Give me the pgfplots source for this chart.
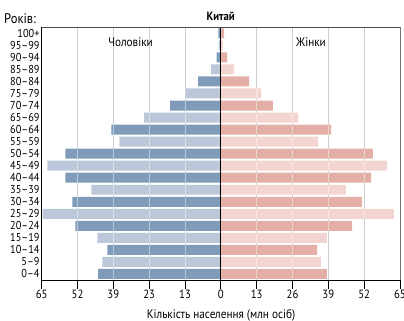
\documentclass[border=0pt]{standalone}
\usepackage{fontspec}
\setmainfont[FakeStretch=0.9]{PT Sans}
\usepackage{pgfplots}
\pgfplotsset{compat=1.18}
\definecolor{mdark}{HTML}{7F9BB9}
\definecolor{mlight}{HTML}{BCC8D9}
\definecolor{fdark}{HTML}{E4AFA7}
\definecolor{flight}{HTML}{F2D5D0}
\definecolor{gridc}{HTML}{A8A8A8}
\begin{document}
\begin{tikzpicture}
\useasboundingbox (0,0) rectangle (404bp,321bp);
\begin{axis}[
  at={(41.7bp,41bp)}, anchor=south west,
  width=358.3bp, height=252.7bp, scale only axis,
  xmin=-65, xmax=65, ymin=-0.5, ymax=20.5,
  xbar, bar width=0.83, /pgf/bar shift=0pt,
  axis line style={draw=none},
  xtick={-65,-52,-39,-26,-13,0,13,26,39,52,65},
  xticklabels={65,52,39,23,13,0,13,26,39,52,65},
  ytick={0,...,20},
  yticklabels={0–4,5–9,10–14,15–19,20–24,25–29,30–34,35–39,40–44,45–49,50–54,55–59,60–64,65–69,70–74,75–79,80–84,85–89,90–94,95–99,100+},
  /pgf/number format/assume math mode=true,
  xtick pos=bottom, tick align=outside, major tick length=9bp,
  x tick style={black, line width=0.9pt},
  y tick style={draw=none},
  xticklabel style={font=\fontsize{12}{12}\selectfont, inner sep=1bp},
  yticklabel style={font=\fontsize{11.5}{12}\selectfont, inner sep=2bp, xshift=9bp},
  xmajorgrids, grid style={gridc, line width=0.9pt},
  clip=false,
]
\addplot[draw=none, fill=mdark] coordinates {(-44.5,0) (-41.2,2) (-52.8,4) (-53.9,6) (-56.4,8) (-56.4,10) (-39.7,12) (-18.4,14) (-8.2,16) (-1.5,18) (-0.9,20)};
\addplot[draw=none, fill=mlight] coordinates {(-43,1) (-44.8,3) (-64.7,5) (-47,7) (-62.9,9) (-36.8,11) (-27.8,13) (-12.8,15) (-3.5,17) (-0.8,19)};
\addplot[draw=none, fill=fdark] coordinates {(38.5,0) (34.9,2) (47.6,4) (51.2,6) (54.5,8) (55.2,10) (40,12) (18.9,14) (10.3,16) (2.3,18) (1.2,20)};
\addplot[draw=none, fill=flight] coordinates {(36.3,1) (38.5,3) (62.8,5) (45.4,7) (60.3,9) (35.3,11) (28,13) (14.6,15) (4.8,17) (0.7,19)};
\foreach \g in {-52,-39,-26,-13,13,26,39,52} {
  \edef\tmp{\noexpand\draw[white, opacity=0.45, line width=0.7pt] (axis cs:\g,-0.5) -- (axis cs:\g,20.5);}\tmp
}
\draw[black, line width=1.3pt] (axis cs:0,-0.5) -- (axis cs:0,20.5);
\draw[black, line width=1.2pt] (rel axis cs:0,0) -- (rel axis cs:0,1);
\draw[black, line width=1pt] (rel axis cs:0,0) -- (rel axis cs:1,0);
\draw[black!70, line width=1pt] (rel axis cs:0,1) -- (rel axis cs:1,1);
\draw[black!55, line width=0.9pt] (rel axis cs:1,0) -- (rel axis cs:1,1);
\end{axis}
\node[anchor=base, font=\fontsize{12}{14}\selectfont\bfseries, inner sep=0pt] at (220.7bp,300.5bp) {Китай};
\node[anchor=base west, font=\fontsize{14}{15}\selectfont, inner sep=0pt] at (4bp,297bp) {Років:};
\node[anchor=base, font=\fontsize{12.5}{13}\selectfont, inner sep=0pt] at (130.5bp,274.3bp) {Чоловіки};
\node[anchor=base, font=\fontsize{12.5}{13}\selectfont, inner sep=0pt] at (311bp,274.3bp) {Жінки};
\node[anchor=base, font=\fontsize{12.5}{13}\selectfont, inner sep=0pt] at (221bp,3bp) {Кількість населення (млн осіб)};
\end{tikzpicture}
\end{document}
